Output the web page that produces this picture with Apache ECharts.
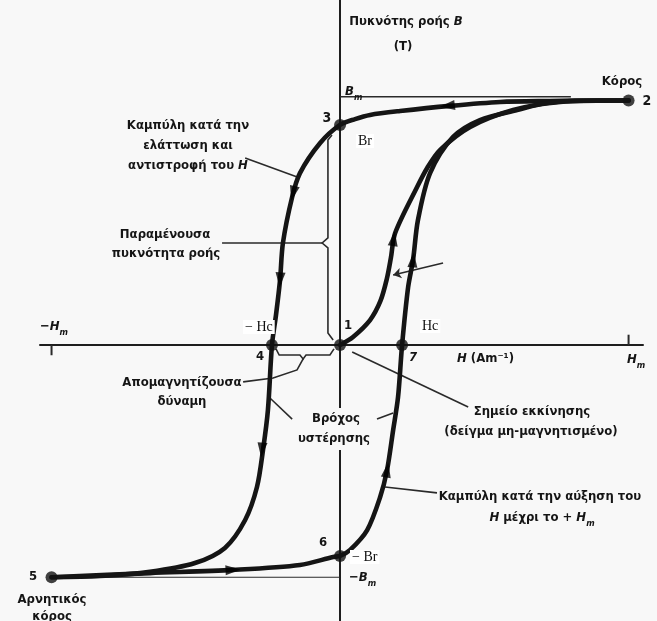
<!DOCTYPE html>
<html>
<head>
<meta charset="utf-8">
<script src="https://cdn.jsdelivr.net/npm/echarts@6/dist/echarts.min.js"></script>
<style>
  html, body { margin: 0; padding: 0; background: #f8f8f8; }
  #c { width: 657px; height: 621px; }
</style>
</head>
<body>
<div id="c"></div>
<script>
// Field strength H and flux density B, scaled so that ±Hm = ±10 and Bm = 10.

// Branch 2 → 3 → 4 → 5: H reduced from +Hm, reversed down to −Hm
const fallingBranch = [
  [10, 10], [9.01, 10.0], [7.28, 9.98], [5.55, 9.94], [3.81, 9.78], [2.08, 9.57],
  [1.04, 9.41], [0.52, 9.24], [0, 9.0], [-0.69, 8.26], [-1.39, 7.03], [-1.66, 6.05],
  [-1.98, 4.17], [-2.08, 2.66], [-2.22, 1.23], [-2.36, 0], [-2.50, -2.66],
  [-2.67, -4.29], [-2.88, -5.81], [-3.29, -7.16], [-3.99, -8.30], [-5.03, -8.92],
  [-6.59, -9.28], [-8.32, -9.45], [-10, -9.5]
];

// Branch 5 → 6 → 7 → 2: H increased back up to +Hm
const risingBranch = [
  [-10, -9.5], [-6.59, -9.33], [-3.71, -9.20], [-1.39, -9.0], [-0.24, -8.67],
  [0, -8.63], [0.35, -8.38], [0.94, -7.57], [1.39, -6.22], [1.63, -5.11],
  [1.84, -3.48], [2.01, -2.13], [2.15, 0], [2.36, 2.37], [2.53, 3.48], [2.70, 5.11],
  [3.12, 7.03], [3.92, 8.51], [4.85, 9.20], [6.14, 9.61], [7.17, 9.90], [9.01, 10.0],
  [10, 10]
];

// Initial magnetisation of the unmagnetised sample, 1 → 2
const initialCurve = [
  [0, 0], [0.45, 0.33], [1.04, 1.02], [1.40, 1.80], [1.62, 2.70], [1.76, 3.55],
  [1.91, 4.58], [2.67, 6.46], [3.02, 7.24], [3.47, 7.98], [4.51, 8.92],
  [6.0, 9.61], [7.63, 9.94], [10, 10]
];

// Numbered points: 1 origin, 2 saturation, 3 Br, 4 −Hc, 5 negative saturation, 6 −Br, 7 Hc
const keyPoints = [
  [0, 0], [10, 10], [0, 9.0], [-2.36, 0], [-10, -9.5], [0, -8.63], [2.15, 0]
];

// Thin guide lines at +Bm and −Bm
const bmGuide = [[0, 10.15], [8, 10.15]];
const negBmGuide = [[-10, -9.5], [0, -9.5]];

// Axis ticks at ±Hm
const hmTicks = [
  [[-10, 0], [-10, -0.42]],
  [[10, 0], [10, 0.42]]
];

// Direction arrows along the curves and their headings (degrees, anticlockwise from up)
const arrowHeads = [
  [3.72, 9.78], [-1.63, 6.2], [-2.08, 2.66], [-2.71, -4.3],
  [-3.71, -9.2], [1.63, -5.11], [2.53, 3.48], [1.86, 4.35]
];
const arrowTurns = [97, 166, 176, 175, 273, 350, 355, 352];

// Leader lines from captions to the curves
const leaders = [
  [[-3.29, 7.65], [-1.39, 6.83]],
  [[-4.09, 4.17], [-0.62, 4.17]],
  [[-0.28, 8.59], [-0.42, 8.38], [-0.42, 4.38], [-0.62, 4.17], [-0.42, 3.97], [-0.42, 0.49], [-0.24, 0.20]],
  [[-2.22, -0.16], [-2.11, -0.41], [-1.39, -0.41], [-1.28, -0.57], [-1.18, -0.41], [-0.35, -0.41], [-0.21, -0.16]],
  [[-3.36, -1.51], [-2.32, -1.35], [-1.49, -1.02], [-1.28, -0.57]],
  [[-2.43, -2.17], [-1.66, -3.03]],
  [[1.28, -3.03], [1.84, -2.78]],
  [[0.42, -0.29], [4.44, -2.54]],
  [[1.56, -5.81], [3.36, -6.05]]
];
const pointerLeader = [[3.57, 3.35], [1.84, 2.86]];

const INK = '#151515';
const SANS = '"Liberation Sans Narrow","DejaVu Sans Condensed","Liberation Sans",sans-serif';
const SERIF = '"Liberation Serif","DejaVu Serif",serif';

const chart = echarts.init(document.getElementById('c'), null, { renderer: 'canvas' });

function curve(data) {
  return {
    type: 'line', data, smooth: 0.3,
    symbol: 'none', silent: true, z: 3,
    lineStyle: { color: INK, width: 4.6, cap: 'round', join: 'round' }
  };
}
function thin(data, w) {
  return {
    type: 'line', data, symbol: 'none', silent: true, z: 2,
    lineStyle: { color: '#2a2a2a', width: w || 1.5 }
  };
}

// Rich text styles shared by every caption
const rich = {
  n: { font: 'bold 13px ' + SANS, fill: INK, lineHeight: 20 },
  b: { font: 'bold 14px ' + SANS, fill: INK, lineHeight: 20 },
  i: { font: 'italic bold 13px ' + SANS, fill: INK, lineHeight: 20 },
  s: { font: 'italic bold 9px ' + SANS, fill: INK, lineHeight: 9, verticalAlign: 'bottom' },
  g: { font: '14px ' + SERIF, fill: '#111', lineHeight: 20, backgroundColor: '#ffffff', padding: [0, 2] }
};

// captions: [x, y, rich text, align]
const captions = [
  [188, 126, '{n|Καμπύλη κατά την}', 'center'],
  [188, 146, '{n|ελάττωση και}', 'center'],
  [188, 166, '{n|αντιστροφή του }{i|H}', 'center'],
  [165, 235, '{n|Παραμένουσα}', 'center'],
  [166, 254, '{n|πυκνότητα ροής}', 'center'],
  [182, 383, '{n|Απομαγνητίζουσα}', 'center'],
  [182, 402, '{n|δύναμη}', 'center'],
  [336, 419, '{n|Βρόχος}', 'center'],
  [334, 439, '{n|υστέρησης}', 'center'],
  [532, 412, '{n|Σημείο εκκίνησης}', 'center'],
  [531, 432, '{n|(δείγμα μη-μαγνητισμένο)}', 'center'],
  [540, 497, '{n|Καμπύλη κατά την αύξηση του}', 'center'],
  [542, 518, '{i|H}{n| μέχρι το + }{i|H}{s|m}', 'center'],
  [622, 82, '{n|Κόρος}', 'center'],
  [52, 600, '{n|Αρνητικός}', 'center'],
  [52, 617, '{n|κόρος}', 'center'],
  [406, 22, '{n|Πυκνότης ροής }{i|B}', 'center'],
  [403, 47, '{n|(T)}', 'center'],
  [327, 118, '{b|3}', 'center'],
  [647, 101, '{b|2}', 'center'],
  [260, 357, '{n|4}', 'center'],
  [348, 326, '{n|1}', 'center'],
  [413, 358, '{i|7}', 'center'],
  [323, 543, '{n|6}', 'center'],
  [33, 577, '{n|5}', 'center'],
  [345, 92, '{i|B}{s|m}', 'left'],
  [40, 327, '{i|−H}{s|m}', 'left'],
  [627, 360, '{i|H}{s|m}', 'left'],
  [349, 578, '{i|−B}{s|m}', 'left'],
  [457, 359, '{i|H}{n| (Am⁻¹)}', 'left'],
  [356, 141, '{g|Br}', 'left'],
  [243, 327, '{g|− Hc}', 'left'],
  [420, 326, '{g|Hc}', 'left'],
  [350, 557, '{g|− Br}', 'left']
];

const graphics = [];
// caption box that breaks the vertical axis
graphics.push({ type: 'rect', shape: { x: 300, y: 408, width: 72, height: 42 }, style: { fill: '#f8f8f8' }, z: 50 });
captions.forEach(([x, y, t, a]) => graphics.push({
  type: 'text', x, y, z: 60,
  style: { text: t, rich, align: a, verticalAlign: 'middle', textAlign: a, textVerticalAlign: 'middle' }
}));

const option = {
  backgroundColor: '#f8f8f8',
  animation: false,
  grid: { left: 40, right: 14, top: 0, bottom: 0, containLabel: false },
  xAxis: {
    type: 'value', min: -10.40, max: 10.50,
    axisLine: { show: true, onZero: true, lineStyle: { color: '#1e1e1e', width: 2 } },
    axisTick: { show: false }, axisLabel: { show: false }, splitLine: { show: false }
  },
  yAxis: {
    type: 'value', min: -11.29, max: 14.11,
    axisLine: { show: true, onZero: true, lineStyle: { color: '#1e1e1e', width: 2 } },
    axisTick: { show: false }, axisLabel: { show: false }, splitLine: { show: false }
  },
  series: [
    thin(bmGuide, 1.5),
    thin(negBmGuide, 1.2),
    thin(hmTicks[0], 2),
    thin(hmTicks[1], 2),
    {
      type: 'lines', coordinateSystem: 'cartesian2d', polyline: true, silent: true, z: 2,
      lineStyle: { color: '#2a2a2a', width: 1.6, opacity: 1 },
      data: leaders.map(c => ({ coords: c }))
    },
    {
      type: 'lines', coordinateSystem: 'cartesian2d', silent: true, z: 2,
      symbol: ['none', 'arrow'], symbolSize: 8,
      lineStyle: { color: '#2a2a2a', width: 1.6, opacity: 1 },
      data: [{ coords: pointerLeader }]
    },
    curve(fallingBranch),
    curve(risingBranch),
    curve(initialCurve),
    {
      type: 'scatter', silent: true, z: 8,
      symbol: 'triangle', symbolSize: [10, 15],
      itemStyle: { color: '#000' },
      data: arrowHeads.map((v, i) => ({ value: v, symbolRotate: arrowTurns[i] }))
    },
    {
      type: 'scatter', silent: true, z: 6, symbol: 'circle', symbolSize: 12,
      itemStyle: { color: '#111' },
      data: keyPoints
    }
  ],
  graphic: graphics
};
chart.setOption(option);
</script>
</body>
</html>
